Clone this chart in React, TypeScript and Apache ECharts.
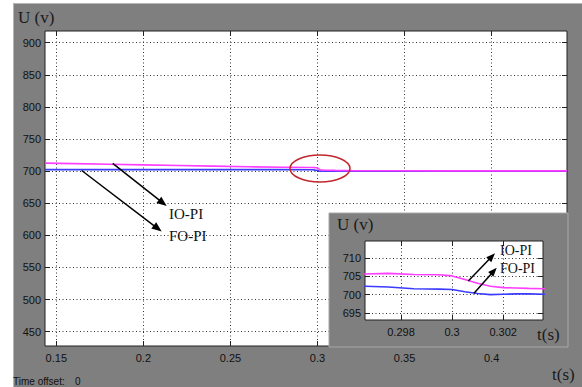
import React, { useEffect, useRef } from "react";
import * as echarts from "echarts";

// time (s)
const time = [0.1435, 0.16, 0.18, 0.2, 0.22, 0.24, 0.26, 0.28, 0.2966, 0.2975, 0.2985, 0.2995, 0.3, 0.3005, 0.301, 0.3015, 0.302, 0.3025, 0.303, 0.3036, 0.31, 0.32, 0.34, 0.37, 0.4, 0.4433];
// IO-PI voltage (magenta)
const ioPI = [712.5, 711.7, 710.8, 709.8, 708.9, 707.8, 706.8, 706.2, 705.6, 705.8, 705.5, 705.4, 705.1, 704.1, 703.1, 702.3, 701.9, 701.8, 701.7, 701.6, 701.2, 700.9, 700.6, 700.5, 700.4, 700.4];
// FO-PI voltage (blue)
const foPI = [702.4, 702.4, 702.4, 702.4, 702.4, 702.4, 702.4, 702.4, 702.3, 702.1, 701.6, 701.5, 701.4, 700.8, 700.3, 700.0, 700.1, 700.2, 700.2, 700.1, 700.0, 700.0, 700.0, 700.0, 700.0, 700.0];

const mainXTicks = [0.15, 0.2, 0.25, 0.3, 0.35, 0.4];
const mainYTicks = [450, 500, 550, 600, 650, 700, 750, 800, 850, 900];
const insetXTicks = [0.298, 0.3, 0.302];
const insetYTicks = [695, 700, 705, 710];

const BLUE = "#3b3bff";
const MAGENTA = "#ff3cff";
const SANS = "Liberation Sans, Arial, sans-serif";
const SERIF = "Liberation Serif, Times New Roman, serif";

function arrow(x1: number, y1: number, x2: number, y2: number, head: number, half: number, z: number) {
  const dx = x2 - x1, dy = y2 - y1;
  const L = Math.hypot(dx, dy);
  const ux = dx / L, uy = dy / L;
  const bx = x2 - ux * head, by = y2 - uy * head;
  return [
    { type: "line", z, shape: { x1, y1, x2: bx + ux, y2: by + uy }, style: { stroke: "#000", lineWidth: 1.5 } },
    {
      type: "polygon", z,
      shape: { points: [[x2, y2], [bx - uy * half, by + ux * half], [bx + uy * half, by - ux * half]] },
      style: { fill: "#000" },
    },
  ];
}

function axisPair(gridIndex: number, min: number, max: number, ticks: number[], isX: boolean, labelMargin: number, z: number) {
  const primary: any = {
    type: "value", gridIndex, min, max, z,
    position: isX ? "bottom" : "left",
    axisLine: { show: false },
    axisTick: { show: true, inside: true, length: 5, customValues: ticks, lineStyle: { color: "#222", width: 1 } },
    axisLabel: {
      show: true, customValues: ticks, margin: labelMargin, color: "#111", fontFamily: SANS, fontSize: 11,
      formatter: (v: number) => String(+v.toFixed(4)),
    },
    splitLine: { show: true, lineStyle: { color: "#333", type: [1, 2.5], width: 1 } },
  };
  const secondary: any = {
    type: "value", gridIndex, min, max, z,
    position: isX ? "top" : "right",
    axisLine: { show: false },
    axisTick: { show: true, inside: true, length: 5, customValues: ticks, lineStyle: { color: "#222", width: 1 } },
    axisLabel: { show: false },
    splitLine: { show: false },
  };
  return [primary, secondary];
}

export default function App() {
  const ref = useRef<HTMLDivElement>(null);
  useEffect(() => {
    document.body.style.margin = "0";
    if (!ref.current) return;
    const chart = echarts.init(ref.current, undefined, { renderer: "svg" });
    const mainData = (vals: number[]) => time.map((t, i) => [t, vals[i]]);

    const [mx0, mx1] = axisPair(0, 0.1435, 0.4433, mainXTicks, true, 6, 0);
    const [my0, my1] = axisPair(0, 427.7, 918.3, mainYTicks, false, 4, 0);
    const [ix0, ix1] = axisPair(1, 0.29659, 0.30356, insetXTicks, true, 6, 12);
    const [iy0, iy1] = axisPair(1, 693.1, 714.6, insetYTicks, false, 4, 12);

    const option: any = {
      animation: false,
      backgroundColor: "transparent",
      grid: [
        { left: 45, top: 31, width: 522, height: 315, show: true, backgroundColor: "#fff", borderColor: "#222", borderWidth: 1, z: 0 },
        { left: 365, top: 241, width: 178, height: 79, show: true, backgroundColor: "#fff", borderColor: "#222", borderWidth: 1, z: 11 },
      ],
      xAxis: [mx0, mx1, ix0, ix1],
      yAxis: [my0, my1, iy0, iy1],
      series: [
        { name: "FO-PI", type: "line", xAxisIndex: 0, yAxisIndex: 0, data: mainData(foPI), showSymbol: false, lineStyle: { color: BLUE, width: 1.6 }, z: 2 },
        { name: "IO-PI", type: "line", xAxisIndex: 0, yAxisIndex: 0, data: mainData(ioPI), showSymbol: false, lineStyle: { color: MAGENTA, width: 1.6 }, z: 3 },
        { name: "FO-PI inset", type: "line", xAxisIndex: 2, yAxisIndex: 2, data: mainData(foPI), showSymbol: false, lineStyle: { color: BLUE, width: 1.6 }, z: 13 },
        { name: "IO-PI inset", type: "line", xAxisIndex: 2, yAxisIndex: 2, data: mainData(ioPI), showSymbol: false, lineStyle: { color: MAGENTA, width: 1.6 }, z: 14 },
      ],
      graphic: [
        { type: "text", z: 5, left: 18, top: 9, style: { text: "U (v)", font: `17px ${SERIF}`, fill: "#1a1a1a" } },
        { type: "text", z: 5, left: 552, top: 366, style: { text: "t(s)", font: `17px ${SERIF}`, fill: "#1a1a1a" } },
        { type: "text", z: 5, left: 13, top: 376, style: { text: "Time offset:", font: `10px ${SANS}`, fill: "#111" } },
        { type: "text", z: 5, left: 75, top: 376, style: { text: "0", font: `10px ${SANS}`, fill: "#111" } },
        { type: "ellipse", z: 5, shape: { cx: 320, cy: 168.5, rx: 30, ry: 13.5 }, style: { fill: "none", stroke: "#c0282d", lineWidth: 1.5 } },
        ...arrow(112.7, 163.3, 166.7, 206, 10, 4, 5),
        ...arrow(81.7, 170.5, 161.7, 231.5, 10, 4, 5),
        { type: "text", z: 5, left: 169, top: 206, style: { text: "IO-PI", font: `15px ${SERIF}`, fill: "#111" } },
        { type: "text", z: 5, left: 169, top: 228, style: { text: "FO-PI", font: `15px ${SERIF}`, fill: "#111" } },
        // inset panel
        { type: "rect", z: 10, shape: { x: 329, y: 213, width: 239, height: 134 }, style: { fill: "#7f7f7f", stroke: "#a8a8a8", lineWidth: 1 } },
        { type: "text", z: 20, left: 337, top: 216, style: { text: "U (v)", font: `17px ${SERIF}`, fill: "#1a1a1a" } },
        { type: "text", z: 20, left: 537, top: 326, style: { text: "t(s)", font: `17px ${SERIF}`, fill: "#1a1a1a" } },
        ...arrow(468.3, 281, 495, 253.3, 9, 3.5, 20),
        ...arrow(474, 293.3, 496.7, 267.7, 9, 3.5, 20),
        { type: "text", z: 20, left: 500, top: 243, style: { text: "IO-PI", font: `14px ${SERIF}`, fill: "#111" } },
        { type: "text", z: 20, left: 500, top: 261, style: { text: "FO-PI", font: `14px ${SERIF}`, fill: "#111" } },
      ],
    };
    chart.setOption(option);
    return () => chart.dispose();
  }, []);

  return (
    <div style={{ position: "relative", width: 582, height: 387, background: "#fff", overflow: "hidden" }}>
      <div style={{ position: "absolute", left: 13, top: 3, right: 0, bottom: 0, background: "#7f7f7f", borderLeft: "1px solid #b5b5b5", borderTop: "1px solid #b5b5b5" }} />
      <div ref={ref} style={{ position: "absolute", left: 0, top: 0, width: 582, height: 387 }} />
    </div>
  );
}
